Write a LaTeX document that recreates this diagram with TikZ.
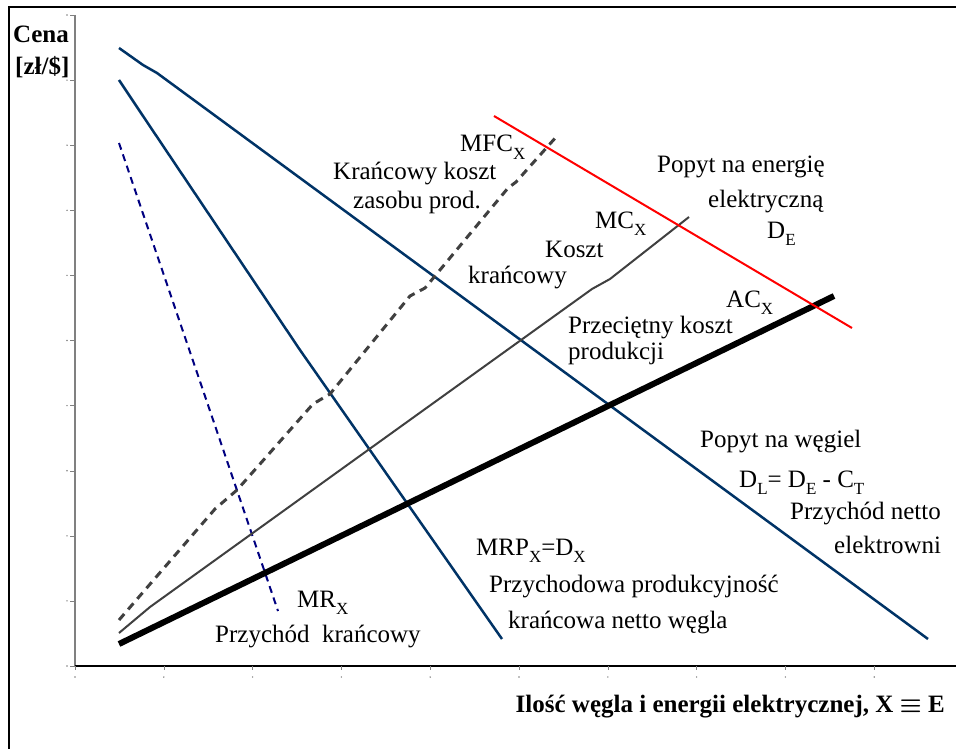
\documentclass[tikz,border=0pt]{standalone}
\usepackage{fontspec}
\setmainfont{Liberation Serif}
\usetikzlibrary{positioning}
\definecolor{dnavy}{HTML}{003366}
\definecolor{mrblue}{HTML}{000080}
\definecolor{cgray}{HTML}{404040}
\definecolor{axgray}{HTML}{808080}
\newcommand{\lsub}[1]{\raisebox{-0.3em}{\fontsize{17}{17}\selectfont #1}}

\begin{document}
\begin{tikzpicture}[x=1pt,y=-1pt,
  lbl/.style={inner sep=0pt,anchor=base west,font=\fontsize{25}{30}\selectfont},
  blbl/.style={lbl,font=\fontsize{25}{30}\selectfont\bfseries},
  curve/.style={line width=2.5pt,dnavy,line join=round}]
  \useasboundingbox (0,0) rectangle (956,749);
  \draw[line width=2pt] (9,760) |- (970,7);
  % axes and ticks
  \draw[axgray,line width=1.5pt] (75,15) -- (75,666);
  \draw[line width=1.5pt] (75,666) -- (970,666);
  \foreach \y in {0,...,10} {
    \draw[axgray] (70,15+65.1*\y) -- (75,15+65.1*\y);
    \fill[axgray] (67,15+65.1*\y) circle (0.8);
  }
  \foreach \x in {0,...,10} {
    \draw[axgray] (75+88.8*\x,666) -- (75+88.8*\x,670);
    \fill[axgray] (75+88.8*\x,677) circle (0.8);
  }
  % curves
  \draw[curve] (119,48) -- (143,65) -- (157,73) -- (928,639);
  \draw[curve] (119,80) -- (143,116) -- (300,350) -- (502,639);
  \draw[mrblue,line width=2pt,dash pattern=on 7pt off 5pt] (119,143) -- (278,611);
  \draw[cgray,line width=3pt,dash pattern=on 8pt off 6pt] (119,620) -- (215,509) -- (237,490) -- (313,404) -- (330,394) -- (410,296) -- (425,288) -- (508,188) -- (516,182) -- (557,136);
  \draw[cgray,line width=2pt,line join=round] (119,633) -- (150,607) -- (350,463) -- (592,289) -- (610,279) -- (689,217);
  \draw[line width=6pt] (119,644) -- (834,296);
  \draw[red,line width=2pt] (494,116) -- (852,328);
  % labels
  \node[blbl] (cena) at (13,43) {Cena};
  \node[blbl] (unit) at (15,75) {[zł/\$]};
  \node[lbl] (mfc) at (460,152) {MFC\lsub{X}};
  \node[lbl] (kkoszt) at (333,179) {Krańcowy koszt};
  \node[lbl] (zasob) at (353,208) {zasobu prod.};
  \node[lbl] (mc) at (595,228) {MC\lsub{X}};
  \node[lbl] (koszt) at (545,257) {Koszt};
  \node[lbl] (kranc) at (468,283) {krańcowy};
  \node[lbl] (popE) at (657,172) {Popyt na energię};
  \node[lbl] (elek) at (708,207) {elektryczną};
  \node[lbl] (de) at (767,238) {D\lsub{E}};
  \node[lbl] (ac) at (726,307) {AC\lsub{X}};
  \node[lbl] (przec) at (568,333) {Przeciętny koszt};
  \node[lbl] (prod) at (568,359) {produkcji};
  \node[lbl] (popW) at (700,447) {Popyt na węgiel};
  \node[lbl] (dl) at (739,487) {D\lsub{L}= D\lsub{E} - C\lsub{T}};
  \node[lbl] (pnet) at (790,519) {Przychód netto};
  \node[lbl] (elektr) at (834,553) {elektrowni};
  \node[lbl] (mrp) at (476,555) {MRP\lsub{X}=D\lsub{X}};
  \node[lbl] (pprod) at (489,592) {Przychodowa produkcyjność};
  \node[lbl] (kneto) at (508,628) {krańcowa netto węgla};
  \node[lbl] (mr) at (297,607) {MR\lsub{X}};
  \node[lbl] (prk) at (215,642) {Przychód\ \ krańcowy};
  \node[blbl,anchor=base east] (xlab) at (945,712) {Ilość węgla i energii elektrycznej, X {\boldmath$\equiv$} E};
\end{tikzpicture}
\end{document}
